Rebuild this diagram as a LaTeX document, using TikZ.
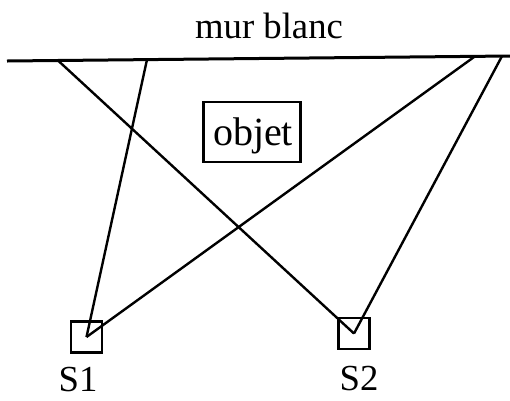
\documentclass[tikz,border=0pt]{standalone}
\usepackage{fontspec}
\setmainfont{Liberation Serif}
\begin{document}
\begin{tikzpicture}[x=1pt,y=-1pt,
  ray/.style={line width=2.4pt},
  sensor/.style={draw,line width=2.4pt,minimum size=31pt,inner sep=0pt},
  lab/.style={anchor=base,inner sep=0pt,font=\fontsize{36.7}{44}\selectfont}]
\useasboundingbox (0,0) rectangle (510,400);
\coordinate (wl) at (7,61);
\coordinate (wr) at (510,56);
\coordinate (A) at (58,60.5);
\coordinate (B) at (147,59.6);
\coordinate (C) at (475,56.3);
\coordinate (D) at (502,56.1);
\draw[line width=3pt] (wl) -- (wr);
\node[lab] (mur) at (269,38) {mur blanc};
\node[draw,line width=2.4pt,minimum width=97pt,minimum height=60pt,inner sep=0pt] (box) at (252,132) {};
\node[lab,font=\fontsize{40}{48}\selectfont] (obj) at (253,145) {objet};
\node[sensor] (s1) at (86.5,337) {};
\node[sensor] (s2) at (354,333.5) {};
\node[lab] (l1) at (78,391) {S1};
\node[lab] (l2) at (359,390) {S2};
\draw[ray] (A) -- (s2.center);
\draw[ray] (D) -- (s2.center);
\draw[ray] (B) -- (s1.center);
\draw[ray] (C) -- (s1.center);
\end{tikzpicture}
\end{document}
